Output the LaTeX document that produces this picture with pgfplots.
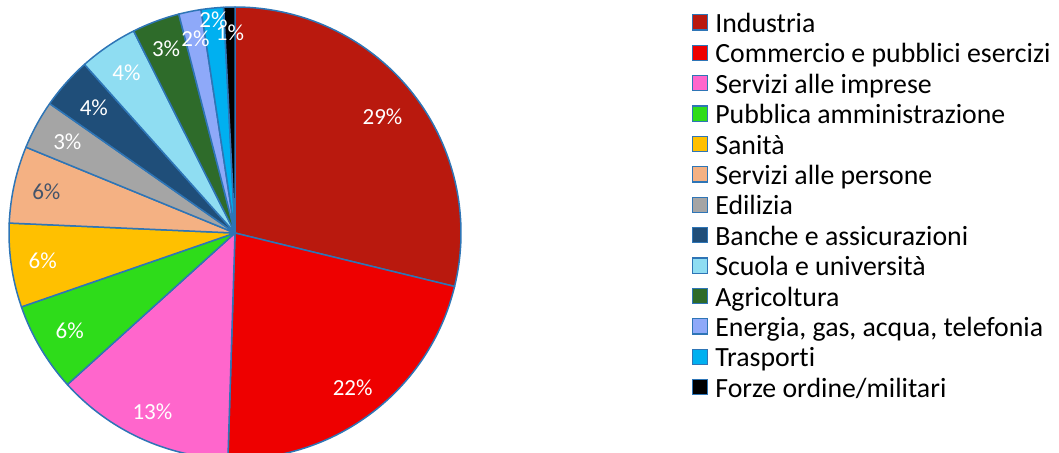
\documentclass[border=0pt]{standalone}
\usepackage{fontspec}
\setmainfont{Carlito}[Ligatures=NoCommon]
\usepackage{pgfplots}
\usepackage{pgfplotstable}
\pgfplotsset{compat=1.18}
\definecolor{cInd}{HTML}{B9190E}
\definecolor{cCom}{HTML}{EE0000}
\definecolor{cSer}{HTML}{FF66CC}
\definecolor{cPub}{HTML}{2EDC1A}
\definecolor{cSan}{HTML}{FFC000}
\definecolor{cPer}{HTML}{F4B183}
\definecolor{cEdi}{HTML}{A5A5A5}
\definecolor{cBan}{HTML}{1F4E79}
\definecolor{cScu}{HTML}{8FDDF2}
\definecolor{cAgr}{HTML}{2E6B2A}
\definecolor{cEne}{HTML}{8EA9F9}
\definecolor{cTra}{HTML}{00B0F0}
\definecolor{cFor}{HTML}{000000}
\definecolor{edge}{HTML}{2E75B6}
\definecolor{darklab}{HTML}{44546A}
\newcommand\labelfont{\fontsize{11.5}{13}\selectfont}
\newcommand\legendfont{\fontsize{13.9}{16}\selectfont}
\pgfplotstableread[col sep=semicolon]{
name;value;pct;col;lr;lc
Industria;28.8;29;cInd;0.83;white
Commercio e pubblici esercizi;21.7;22;cCom;0.86;white
Servizi alle imprese;12.8;13;cSer;0.87;white
Pubblica amministrazione;6.4;6;cPub;0.85;white
Sanità;6.0;6;cSan;0.86;white
Servizi alle persone;5.5;6;cPer;0.855;darklab
Edilizia;3.5;3;cEdi;0.845;white
Banche e assicurazioni;3.7;4;cBan;0.835;white
Scuola e università;4.2;4;cScu;0.855;white
Agricoltura;3.4;3;cAgr;0.87;white
Energia, gas, acqua, telefonia;1.6;2;cEne;0.877;white
Trasporti;1.6;2;cTra;0.947;white
Forze ordine/militari;0.8;1;cFor;0.885;white
}\data
\begin{document}
\begin{tikzpicture}
\begin{axis}[
  scale only axis, width=529.5pt, height=226pt,
  xmin=0, xmax=1059, ymin=0, ymax=452,
  hide axis, clip=true,
  legend cell align=left,
  legend image code/.code={\draw[#1,line width=0.6pt] (0pt,1.2pt) rectangle (7.6pt,8.8pt);},
  legend style={draw=none, fill=none, inner sep=0pt, outer sep=0pt,
    at={(0.6534,0.976)}, anchor=north west, font=\legendfont,
    row sep=0pt,
    nodes={inner sep=0pt, text height=10.8pt, text depth=4.4pt, anchor=base west},
    /tikz/every odd column/.style={column sep=3.5pt}},
]
\gdef\cum{0}
\pgfplotsinvokeforeach{0,...,12}{
  \pgfplotstablegetelem{#1}{value}\of\data \let\v\pgfplotsretval
  \pgfplotstablegetelem{#1}{col}\of\data \let\c\pgfplotsretval
  \pgfplotstablegetelem{#1}{name}\of\data \let\n\pgfplotsretval
  \pgfmathsetmacro\a{90-3.6*\cum}
  \pgfmathsetmacro\b{90-3.6*(\cum+\v)}
  \pgfmathsetmacro\sx{235+226*cos(\a)}
  \pgfmathsetmacro\sy{219+226*sin(\a)}
  \edef\cmd{\noexpand\fill[fill=\c,draw=edge,line width=0.75pt,line join=round]
    (axis cs:235,219) -- (axis cs:\sx,\sy) arc[start angle=\a,end angle=\b,radius=113pt] -- cycle;
    \noexpand\addlegendimage{fill=\c,draw=edge}
    \noexpand\addlegendentry{\n}}
  \cmd
  \pgfmathsetmacro\newcum{\cum+\v}
  \xdef\cum{\newcum}
}
\gdef\cum{0}
\pgfplotsinvokeforeach{0,...,12}{
  \pgfplotstablegetelem{#1}{value}\of\data \let\v\pgfplotsretval
  \pgfplotstablegetelem{#1}{pct}\of\data \let\p\pgfplotsretval
  \pgfplotstablegetelem{#1}{lr}\of\data \let\r\pgfplotsretval
  \pgfplotstablegetelem{#1}{lc}\of\data \let\lc\pgfplotsretval
  \pgfmathsetmacro\m{90-3.6*(\cum+\v/2)}
  \pgfmathsetmacro\lx{235+226*\r*cos(\m)}
  \pgfmathsetmacro\ly{219+226*\r*sin(\m)}
  \edef\cmd{\noexpand\node[text=\lc,font=\noexpand\labelfont,inner sep=0pt]
    at (axis cs:\lx,\ly) {\p\noexpand\%};}
  \cmd
  \pgfmathsetmacro\newcum{\cum+\v}
  \xdef\cum{\newcum}
}
\end{axis}
\pgfresetboundingbox
\path[use as bounding box] (0,0) rectangle (529.5pt,226pt);
\end{tikzpicture}
\end{document}
